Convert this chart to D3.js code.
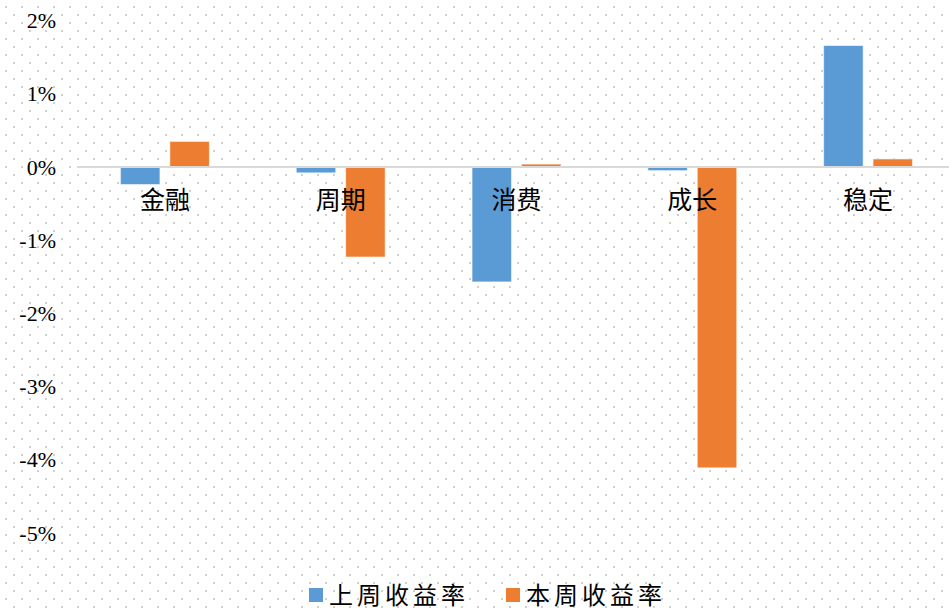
<!DOCTYPE html>
<html>
<head>
<meta charset="utf-8">
<script src="https://cdn.jsdelivr.net/npm/d3@7"></script>
<style>
  html, body { margin: 0; padding: 0; background: #fff; }
  svg { display: block; }
</style>
</head>
<body>
<svg id="chart" width="949" height="610"></svg>
<script>
// Sector style returns (%), previous week vs. this week
const categories = ["金融", "周期", "消费", "成长", "稳定"];
const seriesNames = ["上周收益率", "本周收益率"];
const lastWeek = [-0.24, -0.08, -1.57, -0.05, 1.66];
const thisWeek = [0.35, -1.23, 0.04, -4.11, 0.11];
const yTicks = [2, 1, 0, -1, -2, -3, -4, -5];
const colors = ["#5B9BD5", "#ED7D31"];

const width = 949, height = 610;
const svg = d3.select("#chart");

// dotted background
const defs = svg.append("defs");
const pat = defs.append("pattern")
  .attr("id", "dots")
  .attr("patternUnits", "userSpaceOnUse")
  .attr("x", 5).attr("y", 6)
  .attr("width", 16).attr("height", 16);
pat.append("rect").attr("x", 0).attr("y", 0).attr("width", 2).attr("height", 2).attr("fill", "#cfcfcf");
pat.append("rect").attr("x", 8).attr("y", 8).attr("width", 2).attr("height", 2).attr("fill", "#cfcfcf");
svg.append("rect").attr("width", width).attr("height", height).attr("fill", "#fff");
svg.append("rect").attr("width", width).attr("height", height).attr("fill", "url(#dots)");

// plot area runs slightly past the right edge of the canvas
const x0 = d3.scaleBand()
  .domain(categories)
  .range([77, 956])
  .paddingInner(0.494)
  .paddingOuter(0.247);

const x1 = d3.scaleBand()
  .domain(seriesNames)
  .range([0, x0.bandwidth()])
  .paddingInner(0.2);

const y = d3.scaleLinear().domain([-5, 2]).range([533, 20.6]);

// y-axis labels
const yAxis = d3.axisLeft(y)
  .tickValues(yTicks)
  .tickSize(0)
  .tickPadding(0)
  .tickFormat(d => d + "%");
const gy = svg.append("g").attr("transform", "translate(56,0)").call(yAxis);
gy.select(".domain").remove();
gy.selectAll("text")
  .attr("font-family", "'Liberation Serif', 'DejaVu Serif', serif")
  .attr("font-size", 22)
  .attr("fill", "#000");

// bars
const data = categories.map((c, i) => ({ cat: c, values: [lastWeek[i], thisWeek[i]] }));
const groups = svg.append("g").selectAll("g")
  .data(data)
  .join("g")
  .attr("transform", d => `translate(${x0(d.cat)},0)`);

groups.selectAll("rect")
  .data(d => d.values.map((v, k) => ({ name: seriesNames[k], v, k })))
  .join("rect")
  .attr("x", d => x1(d.name))
  .attr("width", x1.bandwidth())
  .attr("y", d => y(Math.max(0, d.v)))
  .attr("height", d => Math.abs(y(d.v) - y(0)))
  .attr("fill", d => colors[d.k])
  .attr("stroke", "#fff")
  .attr("stroke-opacity", 0.6)
  .attr("stroke-width", 1);

// zero line
svg.append("line")
  .attr("x1", 77).attr("x2", 949)
  .attr("y1", y(0)).attr("y2", y(0))
  .attr("stroke", "#d9d9d9")
  .attr("stroke-width", 2);

// category labels
svg.append("g").selectAll("text")
  .data(categories)
  .join("text")
  .attr("x", d => x0(d) + x0.bandwidth() / 2)
  .attr("y", 198)
  .attr("text-anchor", "middle")
  .attr("dominant-baseline", "central")
  .attr("font-family", "'Noto Sans CJK SC', sans-serif")
  .attr("font-size", 25)
  .attr("fill", "#000")
  .text(d => d);

// legend
const legendX = [309, 506];
const legend = svg.append("g").selectAll("g")
  .data(seriesNames)
  .join("g")
  .attr("transform", (d, i) => `translate(${legendX[i]},0)`);
legend.append("rect")
  .attr("x", 0).attr("y", 588)
  .attr("width", 14).attr("height", 14)
  .attr("fill", (d, i) => colors[i]);
legend.append("text")
  .attr("x", 20).attr("y", 593)
  .attr("dominant-baseline", "central")
  .attr("font-family", "'Noto Sans CJK SC', sans-serif")
  .attr("font-size", 24)
  .attr("letter-spacing", 4)
  .attr("fill", "#000")
  .text(d => d);
</script>
</body>
</html>
